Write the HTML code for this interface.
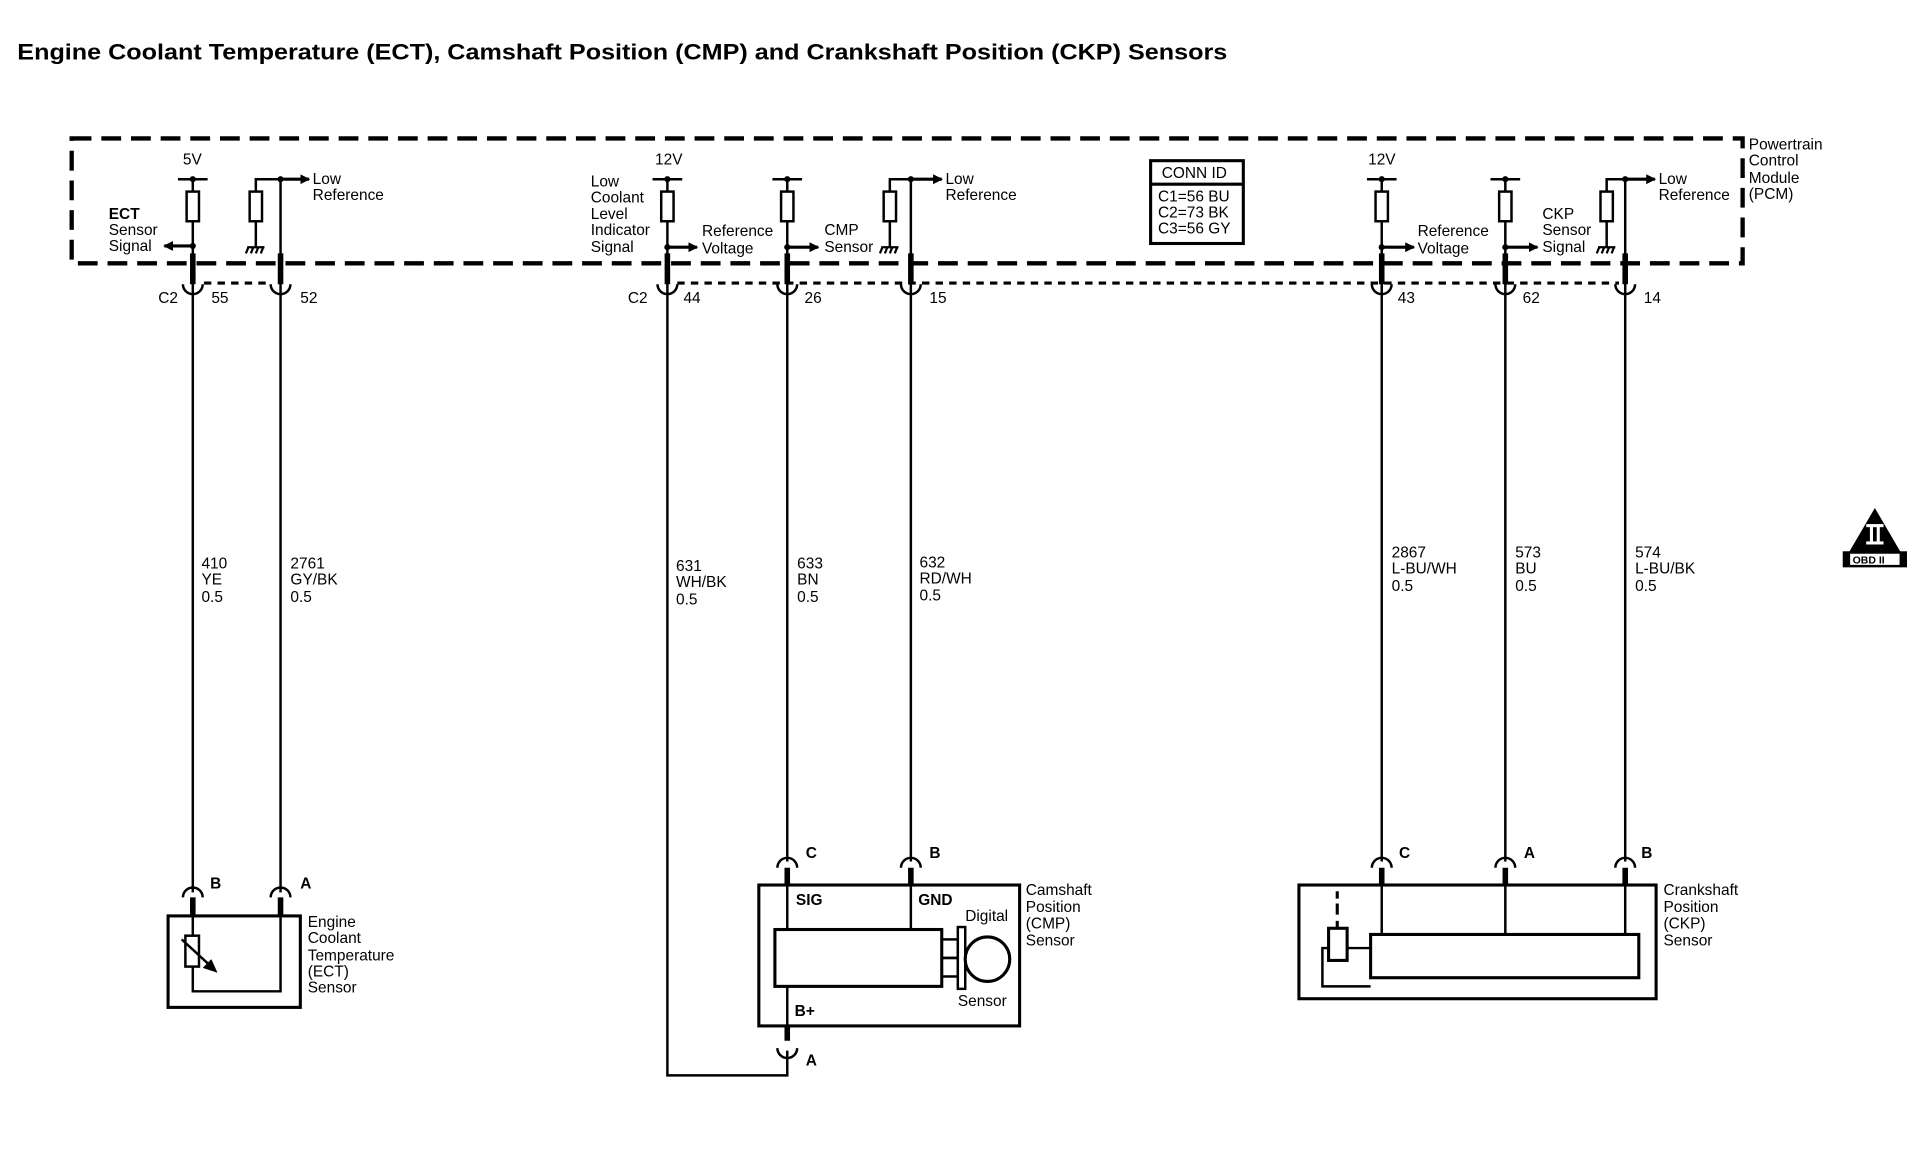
<!DOCTYPE html>
<html><head><meta charset="utf-8"><style>
html,body{margin:0;padding:0;background:#fff;}
svg{display:block;}
text{font-family:"Liberation Sans",sans-serif;font-size:12.5px;fill:#000;}
.t{font-weight:bold;font-size:18px;}
.b{font-weight:bold;}
</style></head><body>
<svg width="1928" height="1152" viewBox="0 0 1560 932" preserveAspectRatio="none" xmlns="http://www.w3.org/2000/svg">
<defs>
<marker id="ar" markerWidth="8" markerHeight="8" refX="7" refY="4" orient="auto" markerUnits="userSpaceOnUse"><path d="M0,0 L8,4 L0,8 z" fill="#000"/></marker>
</defs>
<text class="t" x="14" y="48" textLength="979" lengthAdjust="spacingAndGlyphs">Engine Coolant Temperature (ECT), Camshaft Position (CMP) and Crankshaft Position (CKP) Sensors</text>
<g fill="none" stroke="#000">
<path d="M58,112 H1410 V213 H58 Z" stroke-width="3.5" stroke-dasharray="16,8"/>
<path d="M165,229 H220 M548,229 H1310" stroke-width="2.5" stroke-dasharray="6,5"/>
</g>
<g fill="none" stroke="#000" stroke-width="2">
<path d="M156,145 V722 M227,145 V722"/>
<path d="M540,145 V870 H637 V850 M637,145 V697 M737,145 V697"/>
<path d="M1118,145 V697 M1218,145 V697 M1315,145 V697"/>
</g>
<g stroke="#000" stroke-width="4.5">
<path d="M156,205 V230 M227,205 V230 M540,205 V230 M637,205 V230 M737,205 V230 M1118,205 V230 M1218,205 V230 M1315,205 V230"/>
<path d="M156,726 V741 M227,726 V741 M637,702 V716 M737,702 V716 M637,830 V842 M1118,702 V716 M1218,702 V716 M1315,702 V716"/>
</g>
<g fill="none" stroke="#000" stroke-width="2">
<path d="M148,230 A8,8 0 0 0 164,230 M219,230 A8,8 0 0 0 235,230 M532,230 A8,8 0 0 0 548,230 M629,230 A8,8 0 0 0 645,230 M729,230 A8,8 0 0 0 745,230 M1110,230 A8,8 0 0 0 1126,230 M1210,230 A8,8 0 0 0 1226,230 M1307,230 A8,8 0 0 0 1323,230"/>
<path d="M148,726 A8,8 0 0 1 164,726 M219,726 A8,8 0 0 1 235,726 M629,702 A8,8 0 0 1 645,702 M729,702 A8,8 0 0 1 745,702 M1110,702 A8,8 0 0 1 1126,702 M1210,702 A8,8 0 0 1 1226,702 M1307,702 A8,8 0 0 1 1323,702"/>
<path d="M629,848 A8,8 0 0 0 645,848"/>
</g>
<g stroke="#000" stroke-width="2" fill="#fff">
<path d="M144,145 H168 M528,145 H552 M625,145 H649 M1106,145 H1130 M1206,145 H1230"/>
<rect x="151" y="155" width="10" height="24"/>
<rect x="535" y="155" width="10" height="24"/>
<rect x="632" y="155" width="10" height="24"/>
<rect x="1113" y="155" width="10" height="24"/>
<rect x="1213" y="155" width="10" height="24"/>
<path d="M207,155 V145 H240 M207,179 V200" fill="none"/>
<rect x="202" y="155" width="10" height="24"/>
<path d="M720,155 V145 H750 M720,179 V200" fill="none"/>
<rect x="715" y="155" width="10" height="24"/>
<path d="M1300,155 V145 H1328 M1300,179 V200" fill="none"/>
<rect x="1295" y="155" width="10" height="24"/>
</g>
<g stroke="#000" stroke-width="1.8">
<path d="M200,200 H214 M201,200 L199,205 M205,200 L203,205 M209,200 L207,205 M213,200 L211,205"/>
<path d="M713,200 H727 M714,200 L712,205 M718,200 L716,205 M722,200 L720,205 M726,200 L724,205"/>
<path d="M1293,200 H1307 M1294,200 L1292,205 M1298,200 L1296,205 M1302,200 L1300,205 M1306,200 L1304,205"/>
</g>
<g stroke="#000" stroke-width="2.5" fill="none">
<path d="M156,199 H133" marker-end="url(#ar)"/>
<path d="M227,145 H250" marker-end="url(#ar)"/>
<path d="M540,200 H564" marker-end="url(#ar)"/>
<path d="M637,200 H662" marker-end="url(#ar)"/>
<path d="M737,145 H762" marker-end="url(#ar)"/>
<path d="M1118,200 H1144" marker-end="url(#ar)"/>
<path d="M1218,200 H1244" marker-end="url(#ar)"/>
<path d="M1315,145 H1339" marker-end="url(#ar)"/>
</g>
<g fill="#000">
<circle cx="156" cy="145" r="2.5"/><circle cx="156" cy="199" r="2.5"/><circle cx="227" cy="145" r="2.5"/>
<circle cx="540" cy="145" r="2.5"/><circle cx="540" cy="200" r="2.5"/><circle cx="637" cy="145" r="2.5"/><circle cx="637" cy="200" r="2.5"/><circle cx="737" cy="145" r="2.5"/>
<circle cx="1118" cy="145" r="2.5"/><circle cx="1118" cy="200" r="2.5"/><circle cx="1218" cy="145" r="2.5"/><circle cx="1218" cy="200" r="2.5"/><circle cx="1315" cy="145" r="2.5"/>
</g>
<rect x="931" y="130" width="75" height="67" fill="none" stroke="#000" stroke-width="2.5"/>
<line x1="931" y1="149" x2="1006" y2="149" stroke="#000" stroke-width="2.5"/>
<text x="940" y="144">CONN ID</text>
<text x="937" y="163">C1=56 BU</text>
<text x="937" y="176">C2=73 BK</text>
<text x="937" y="189">C3=56 GY</text>
<text x="148" y="133">5V</text>
<text class="b" x="88" y="177">ECT</text><text x="88" y="190">Sensor</text><text x="88" y="203">Signal</text>
<text x="253" y="149">Low</text><text x="253" y="162">Reference</text>
<text x="530" y="133">12V</text>
<text x="478" y="151">Low</text><text x="478" y="164">Coolant</text><text x="478" y="177">Level</text><text x="478" y="190">Indicator</text><text x="478" y="204">Signal</text>
<text x="568" y="191">Reference</text><text x="568" y="205">Voltage</text>
<text x="667" y="190">CMP</text><text x="667" y="204">Sensor</text>
<text x="765" y="149">Low</text><text x="765" y="162">Reference</text>
<text x="1107" y="133">12V</text>
<text x="1147" y="191">Reference</text><text x="1147" y="205">Voltage</text>
<text x="1248" y="177">CKP</text><text x="1248" y="190">Sensor</text><text x="1248" y="204">Signal</text>
<text x="1342" y="149">Low</text><text x="1342" y="162">Reference</text>
<text x="1415" y="121">Powertrain</text><text x="1415" y="134">Control</text><text x="1415" y="148">Module</text><text x="1415" y="161">(PCM)</text>
<text x="128" y="245">C2</text><text x="171" y="245">55</text><text x="243" y="245">52</text>
<text x="508" y="245">C2</text><text x="553" y="245">44</text><text x="651" y="245">26</text><text x="752" y="245">15</text>
<text x="1131" y="245">43</text><text x="1232" y="245">62</text><text x="1330" y="245">14</text>
<text x="163" y="460">410</text><text x="163" y="473">YE</text><text x="163" y="487">0.5</text>
<text x="235" y="460">2761</text><text x="235" y="473">GY/BK</text><text x="235" y="487">0.5</text>
<text x="547" y="462">631</text><text x="547" y="475">WH/BK</text><text x="547" y="489">0.5</text>
<text x="645" y="460">633</text><text x="645" y="473">BN</text><text x="645" y="487">0.5</text>
<text x="744" y="459">632</text><text x="744" y="472">RD/WH</text><text x="744" y="486">0.5</text>
<text x="1126" y="451">2867</text><text x="1126" y="464">L-BU/WH</text><text x="1126" y="478">0.5</text>
<text x="1226" y="451">573</text><text x="1226" y="464">BU</text><text x="1226" y="478">0.5</text>
<text x="1323" y="451">574</text><text x="1323" y="464">L-BU/BK</text><text x="1323" y="478">0.5</text>
<text class="b" x="170" y="719">B</text><text class="b" x="243" y="719">A</text>
<rect x="136" y="741" width="107" height="74" fill="none" stroke="#000" stroke-width="2.5"/>
<path d="M156,741 V802 H227 V741" fill="none" stroke="#000" stroke-width="2"/>
<rect x="150" y="757" width="11" height="25" fill="#fff" stroke="#000" stroke-width="2"/>
<path d="M147,760 L172,783" stroke="#000" stroke-width="2"/>
<path d="M176,787 L164,783 L171,776 Z" fill="#000"/>
<text x="249" y="750">Engine</text><text x="249" y="763">Coolant</text><text x="249" y="777">Temperature</text><text x="249" y="790">(ECT)</text><text x="249" y="803">Sensor</text>
<text class="b" x="652" y="694">C</text><text class="b" x="752" y="694">B</text><text class="b" x="652" y="862">A</text>
<rect x="614" y="716" width="211" height="114" fill="none" stroke="#000" stroke-width="2.5"/>
<path d="M637,716 V752 M737,716 V752 M637,798 V830" fill="none" stroke="#000" stroke-width="2"/>
<rect x="627" y="752" width="135" height="46" fill="#fff" stroke="#000" stroke-width="2.5"/>
<rect x="762" y="760" width="13" height="15" fill="none" stroke="#000" stroke-width="2"/>
<rect x="762" y="775" width="13" height="15" fill="none" stroke="#000" stroke-width="2"/>
<rect x="775" y="750" width="6" height="50" fill="#fff" stroke="#000" stroke-width="2"/>
<circle cx="799" cy="776" r="18" fill="none" stroke="#000" stroke-width="2.5"/>
<text class="b" x="644" y="732">SIG</text><text class="b" x="743" y="732">GND</text>
<text x="781" y="745">Digital</text><text x="775" y="814">Sensor</text><text class="b" x="643" y="822">B+</text>
<text x="830" y="724">Camshaft</text><text x="830" y="738">Position</text><text x="830" y="751">(CMP)</text><text x="830" y="765">Sensor</text>
<text class="b" x="1132" y="694">C</text><text class="b" x="1233" y="694">A</text><text class="b" x="1328" y="694">B</text>
<rect x="1051" y="716" width="289" height="92" fill="none" stroke="#000" stroke-width="2.5"/>
<g fill="none" stroke="#000" stroke-width="2">
<path d="M1118,716 V756 M1218,716 V756 M1315,716 V756"/>
<path d="M1109,767 H1070 V798 H1109"/>
<path d="M1082,721 V727 M1082,731 V740 M1082,745 V751" stroke-width="2.5"/>
</g>
<rect x="1109" y="756" width="217" height="35" fill="#fff" stroke="#000" stroke-width="2.5"/>
<rect x="1075" y="751" width="15" height="26" fill="#fff" stroke="#000" stroke-width="2.5"/>
<text x="1346" y="724">Crankshaft</text><text x="1346" y="738">Position</text><text x="1346" y="751">(CKP)</text><text x="1346" y="765">Sensor</text>
<path d="M1517,411 L1493,452 L1541,452 Z" fill="#000"/>
<rect x="1491" y="446" width="52" height="13" fill="#000"/>
<rect x="1497" y="448" width="40" height="9" fill="#fff"/>
<text x="1499" y="456" style="font-size:8.5px;font-weight:bold">OBD II</text>
<g fill="#fff"><rect x="1510" y="424" width="14" height="2.5"/><rect x="1510" y="438" width="14" height="2.5"/><rect x="1513" y="426" width="2.5" height="12"/><rect x="1518.5" y="426" width="2.5" height="12"/></g>
</svg>
</body></html>
